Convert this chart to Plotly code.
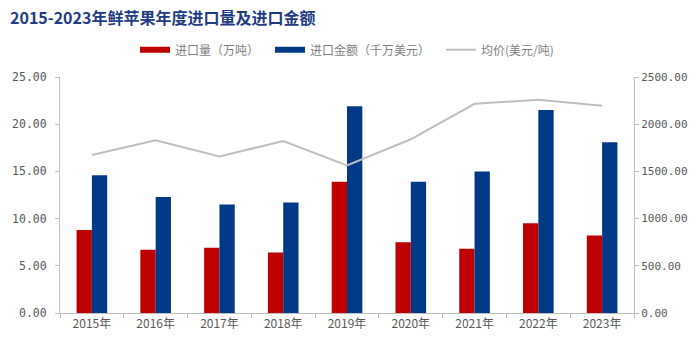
import plotly.graph_objects as go

years = ["2015年", "2016年", "2017年", "2018年", "2019年", "2020年", "2021年", "2022年", "2023年"]
volume = [8.8, 6.7, 6.9, 6.4, 13.9, 7.5, 6.8, 9.5, 8.2]          # 进口量（万吨）
amount = [14.6, 12.3, 11.5, 11.7, 21.9, 13.9, 15.0, 21.5, 18.1]  # 进口金额（千万美元）
price = [1673, 1830, 1657, 1822, 1564, 1840, 2216, 2259, 2196]   # 均价(美元/吨)
names = ["进口量（万吨）", "进口金额（千万美元）", "均价(美元/吨)"]

RED = "#BE0000"
BLUE = "#003A86"
GRAY = "#BFBFBF"
TXT = "#595959"
FONT = "Noto Sans CJK SC"
MONO = "DejaVu Sans Mono"

fig = go.Figure()
fig.add_trace(go.Bar(x=years, y=volume, name=names[0], marker_color=RED,
                     marker_line_width=0, showlegend=False))
fig.add_trace(go.Bar(x=years, y=amount, name=names[1], marker_color=BLUE,
                     marker_line_width=0, showlegend=False))
fig.add_trace(go.Scatter(x=years, y=price, name=names[2], mode="lines",
                         line=dict(color=GRAY, width=2), yaxis="y2", showlegend=False))

# legend entries
fig.add_trace(go.Scatter(x=[None], y=[None], mode="lines", name=names[0] + "\u3000",
                         line=dict(color=RED, width=6)))
fig.add_trace(go.Scatter(x=[None], y=[None], mode="lines", name=names[1] + "\u3000",
                         line=dict(color=BLUE, width=6)))
fig.add_trace(go.Scatter(x=[None], y=[None], mode="lines", name=names[2],
                         line=dict(color=GRAY, width=2)))

fig.update_layout(
    width=700, height=346,
    margin=dict(l=57, r=58, t=77, b=33),
    paper_bgcolor="white", plot_bgcolor="white",
    barmode="group", bargap=0.52, bargroupgap=0,
    font=dict(family=FONT, size=12, color=TXT),
    title=dict(text="<b>2015-2023年鲜苹果年度进口量及进口金额</b>", xref="container", yref="container",
               x=10/700, xanchor="left", y=1-18/346, yanchor="middle",
               font=dict(family=FONT, size=16, color="#1F3C84")),
    legend=dict(orientation="h", x=0.5, xanchor="center", y=1.115, yanchor="middle",
                font=dict(size=12, color="#7F7F7F"), bgcolor="rgba(0,0,0,0)"),
    xaxis=dict(showline=True, linecolor=GRAY, linewidth=1, ticks="outside", tickson="boundaries",
               ticklen=4, tickcolor=GRAY, showgrid=False, tickfont=dict(size=12, color=TXT)),
    yaxis=dict(range=[0, 25], dtick=5, tickformat=".2f", showline=True, linecolor=GRAY,
               ticks="outside", ticklen=4, tickcolor=GRAY, showgrid=False, zeroline=False,
               ticklabelstandoff=6,
               tickfont=dict(family=MONO, size=11.5, color=TXT)),
    yaxis2=dict(range=[0, 2500], dtick=500, tickformat=".2f", overlaying="y", side="right",
                showline=True, linecolor=GRAY, ticks="outside", ticklen=4, tickcolor=GRAY,
                showgrid=False, zeroline=False,
                tickfont=dict(family=MONO, size=11, color=TXT)),
)

fig.write_html("out.html")
